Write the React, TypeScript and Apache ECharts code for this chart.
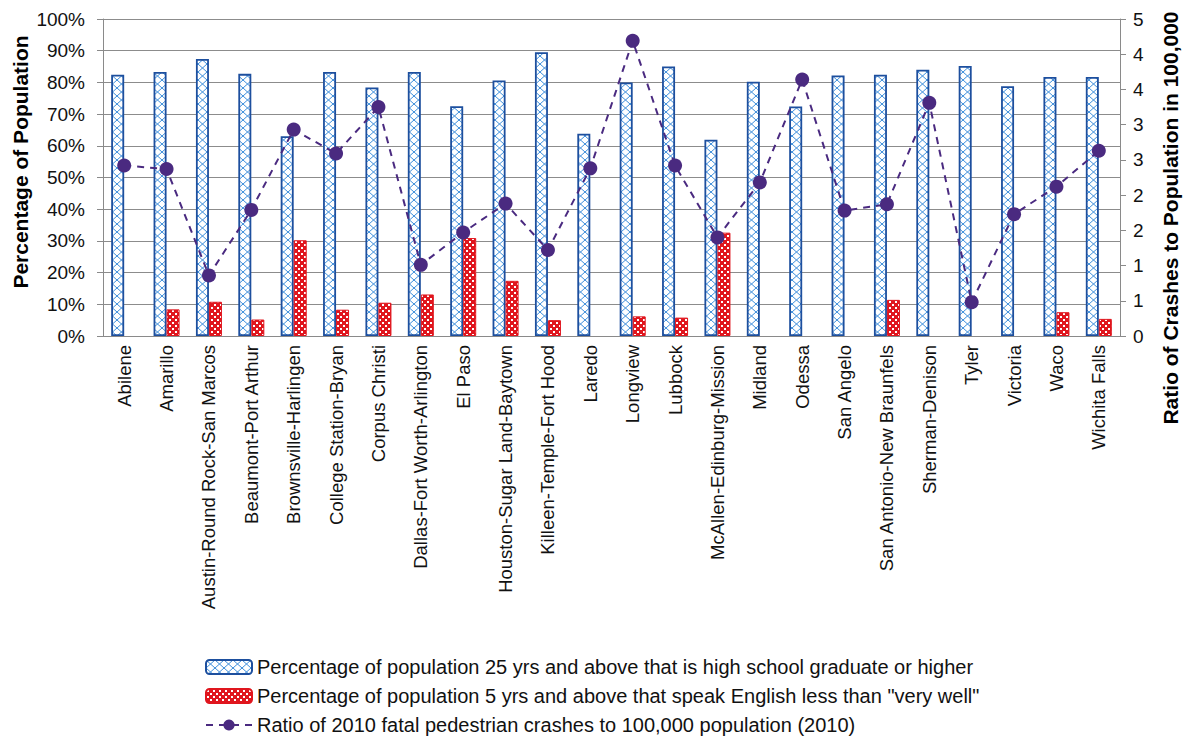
import React, { useEffect, useRef } from "react";
import * as echarts from "echarts";

const categories = [
  "Abilene",
  "Amarillo",
  "Austin-Round Rock-San Marcos",
  "Beaumont-Port Arthur",
  "Brownsville-Harlingen",
  "College Station-Bryan",
  "Corpus Christi",
  "Dallas-Fort Worth-Arlington",
  "El Paso",
  "Houston-Sugar Land-Baytown",
  "Killeen-Temple-Fort Hood",
  "Laredo",
  "Longview",
  "Lubbock",
  "McAllen-Edinburg-Mission",
  "Midland",
  "Odessa",
  "San Angelo",
  "San Antonio-New Braunfels",
  "Sherman-Denison",
  "Tyler",
  "Victoria",
  "Waco",
  "Wichita Falls",
];

// % of population 25+ that is high school graduate or higher
const hsGraduate = [
  82.4, 83.3, 87.4, 82.7, 63.0, 83.3, 78.4, 83.3, 72.5, 80.6, 89.5, 63.8,
  80.0, 85.0, 61.9, 80.2, 72.4, 82.2, 82.4, 84.0, 85.2, 78.8, 81.7, 81.7,
];

// % of population 5+ that speak English less than "very well"
const limitedEnglish = [
  null, 8.4, 10.8, 5.2, 30.2, 8.3, 10.5, 13.1, 30.9, 17.4, 5.0, null,
  6.2, 5.8, 32.6, null, null, null, 11.4, null, null, null, 7.5, 5.4,
];

// Ratio of 2010 fatal pedestrian crashes to 100,000 population
const crashRatio = [
  2.42, 2.37, 0.86, 1.79, 2.93, 2.59, 3.25, 1.01, 1.47, 1.88, 1.22, 2.38,
  4.19, 2.42, 1.4, 2.18, 3.64, 1.78, 1.87, 3.31, 0.48, 1.73, 2.12, 2.63,
];

const seriesNames = [
  "Percentage of population 25 yrs and above that is high school graduate or higher",
  'Percentage of population 5 yrs and above that speak English less than "very well"',
  "Ratio of 2010 fatal pedestrian crashes to 100,000 population (2010)",
];

const leftTitle = "Percentage of Population";
const rightTitle = "Ratio of Crashes to Population in 100,000";

const FONT = "'Liberation Sans', Arial, Helvetica, sans-serif";

function bluePattern() {
  const c = document.createElement("canvas");
  c.width = 9;
  c.height = 8;
  const ctx = c.getContext("2d")!;
  ctx.fillStyle = "#ffffff";
  ctx.fillRect(0, 0, 9, 8);
  ctx.strokeStyle = "#3f8fdc";
  ctx.lineWidth = 1;
  ctx.beginPath();
  ctx.moveTo(0, 0);
  ctx.lineTo(9, 8);
  ctx.moveTo(9, 0);
  ctx.lineTo(0, 8);
  ctx.stroke();
  return c;
}

function redPattern() {
  const c = document.createElement("canvas");
  c.width = 6;
  c.height = 6;
  const ctx = c.getContext("2d")!;
  ctx.fillStyle = "#e0161e";
  ctx.fillRect(0, 0, 6, 6);
  ctx.fillStyle = "#ffffff";
  ctx.fillRect(1, 1, 2, 2);
  ctx.fillRect(4, 4, 2, 2);
  return c;
}

export default function App() {
  const ref = useRef<HTMLDivElement>(null);

  useEffect(() => {
    document.body.style.margin = "0";
    if (!ref.current) return;
    const chart = echarts.init(ref.current, undefined, { renderer: "svg" });
    const bp = bluePattern();
    const rp = redPattern();

    const option: any = {
      animation: false,
      backgroundColor: "#ffffff",
      textStyle: { fontFamily: FONT },
      grid: { left: 103, right: 68, top: 19, bottom: 408 },
      legend: {
        orient: "vertical",
        left: 200,
        top: 652,
        itemWidth: 46,
        itemHeight: 14,
        itemGap: 9,
        textStyle: { fontSize: 20, color: "#111", fontFamily: FONT },
        data: seriesNames,
      },
      xAxis: {
        type: "category",
        data: categories,
        axisLine: { lineStyle: { color: "#8a8a8a", width: 1 } },
        axisTick: { length: 6, lineStyle: { color: "#8a8a8a" } },
        axisLabel: {
          rotate: 90,
          interval: 0,
          fontSize: 18.5,
          color: "#111",
          margin: 9,
          fontFamily: FONT,
        },
      },
      yAxis: [
        {
          type: "value",
          min: 0,
          max: 100,
          interval: 10,
          axisLine: { show: true, lineStyle: { color: "#8a8a8a" } },
          axisTick: { show: true, length: 6, lineStyle: { color: "#8a8a8a" } },
          axisLabel: {
            formatter: "{value}%",
            fontSize: 19,
            color: "#111",
            margin: 18,
            fontFamily: FONT,
          },
          splitLine: { show: true, lineStyle: { color: "#8c8c8c", width: 1 } },
        },
        {
          type: "value",
          min: 0,
          max: 4.5,
          interval: 0.5,
          position: "right",
          axisLine: { show: true, lineStyle: { color: "#8a8a8a" } },
          axisTick: { show: true, length: 6, lineStyle: { color: "#8a8a8a" } },
          axisLabel: {
            formatter: (v: number) => String(Math.round(v)),
            fontSize: 19,
            color: "#111",
            margin: 13,
            fontFamily: FONT,
          },
          splitLine: { show: false },
        },
      ],
      series: [
        {
          name: seriesNames[0],
          type: "bar",
          data: hsGraduate,
          barWidth: 13,
          barGap: "0%",
          itemStyle: {
            color: { image: bp, repeat: "repeat", imageWidth: 9, imageHeight: 8 },
            borderColor: "#1d4f9e",
            borderWidth: 1.8,
          },
        },
        {
          name: seriesNames[1],
          type: "bar",
          data: limitedEnglish,
          barWidth: 13,
          barGap: "0%",
          itemStyle: {
            color: { image: rp, repeat: "repeat", imageWidth: 6, imageHeight: 6 },
            borderColor: "#e0161e",
            borderWidth: 1,
          },
        },
        {
          name: seriesNames[2],
          type: "line",
          yAxisIndex: 1,
          data: crashRatio,
          symbol: "circle",
          symbolSize: 14,
          itemStyle: { color: "#4a2a80" },
          lineStyle: { color: "#4a2a80", width: 2, type: [7, 6] },
          z: 5,
        },
      ],
      graphic: [
        {
          type: "text",
          x: 20,
          y: 162,
          rotation: Math.PI / 2,
          style: {
            text: leftTitle,
            font: `bold 21px ${FONT}`,
            fill: "#000",
            align: "center",
            verticalAlign: "middle",
          },
        },
        {
          type: "text",
          x: 1170,
          y: 218,
          rotation: Math.PI / 2,
          style: {
            text: rightTitle,
            font: `bold 21px ${FONT}`,
            fill: "#000",
            align: "center",
            verticalAlign: "middle",
          },
        },
      ],
    };

    chart.setOption(option);
    return () => chart.dispose();
  }, []);

  return <div ref={ref} style={{ width: 1188, height: 744 }} />;
}
